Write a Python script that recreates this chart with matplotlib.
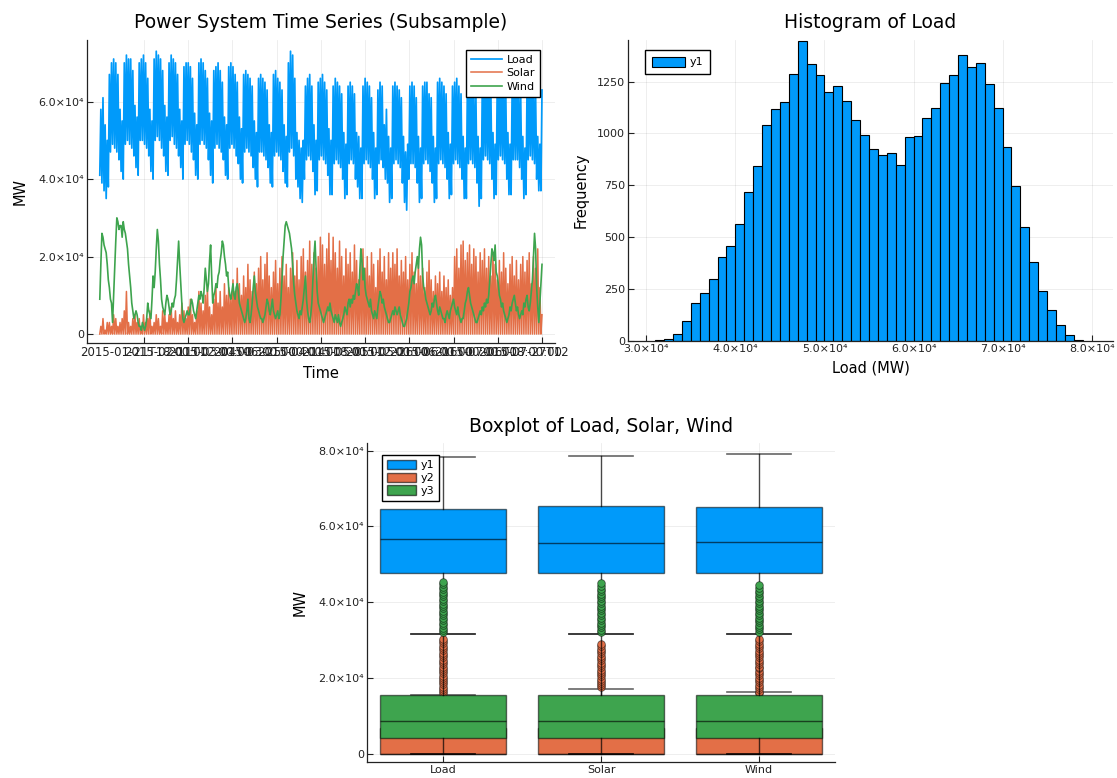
import numpy as np
import matplotlib
matplotlib.use("Agg")
import matplotlib.pyplot as plt
from matplotlib.patches import Patch, Rectangle

# ---------------- data (values in thousands of MW, two samples per day) ----------------
# load: night trough, day peak for every day from 2015-01-01
load_k = [
    41, 58, 39, 61, 37, 54, 35, 50,
    38, 67, 47, 70, 49, 71, 48, 70, 47, 67, 45, 58, 42, 55,
    40, 70, 49, 72, 50, 71, 49, 71, 48, 68, 46, 59, 43, 56,
    41, 70, 50, 71, 50, 72, 49, 70, 48, 66, 46, 58, 42, 55,
    40, 71, 50, 73, 51, 72, 50, 71, 48, 68, 46, 59, 42, 56,
    41, 70, 50, 72, 51, 71, 49, 70, 48, 67, 46, 58, 43, 55,
    40, 69, 49, 70, 50, 70, 49, 69, 47, 66, 45, 57, 41, 54,
    40, 70, 49, 71, 50, 70, 49, 68, 48, 66, 45, 57, 41, 55,
    39, 68, 48, 69, 49, 70, 48, 68, 47, 65, 45, 56, 41, 54,
    40, 69, 48, 70, 49, 69, 48, 67, 46, 65, 44, 56, 40, 53,
    39, 67, 47, 68, 48, 67, 47, 66, 46, 64, 43, 55, 40, 52,
    38, 66, 47, 67, 47, 66, 46, 65, 45, 63, 43, 54, 39, 52,
    38, 67, 46, 68, 47, 66, 46, 65, 45, 63, 42, 54, 39, 51,
    38, 70, 47, 73, 48, 72, 46, 66, 40, 52, 38, 50, 35, 48,
    34, 50, 40, 64, 45, 66, 46, 67, 45, 64, 42, 54, 36, 50,
    37, 65, 45, 66, 46, 67, 45, 65, 44, 63, 41, 53, 36, 50,
    36, 64, 44, 66, 45, 65, 44, 64, 43, 62, 40, 52, 35, 49,
    36, 64, 44, 65, 45, 64, 44, 62, 40, 52, 38, 51, 35, 48,
    35, 64, 44, 66, 45, 65, 44, 64, 43, 61, 40, 52, 35, 48,
    36, 63, 44, 65, 45, 64, 43, 54, 40, 58, 39, 51, 34, 48,
    35, 64, 44, 65, 45, 64, 44, 63, 43, 61, 39, 51, 34, 47,
    32, 49, 40, 64, 44, 65, 44, 64, 43, 61, 39, 51, 34, 48,
    35, 64, 44, 65, 45, 65, 44, 62, 42, 61, 39, 51, 34, 48,
    35, 65, 44, 66, 45, 65, 44, 64, 43, 62, 40, 52, 35, 49,
    36, 64, 44, 65, 45, 66, 44, 64, 43, 62, 40, 51, 35, 48,
    35, 65, 44, 66, 45, 65, 44, 64, 43, 61, 39, 51, 33, 48,
    35, 66, 45, 67, 46, 67, 45, 66, 44, 63, 40, 52, 35, 49,
    36, 65, 45, 66, 46, 66, 45, 65, 44, 63, 40, 52, 36, 49,
    36, 64, 45, 66, 45, 65, 45, 64, 43, 62, 40, 51, 35, 48,
    36, 65, 45, 66, 46, 66, 45, 65, 44, 62, 40, 51, 37, 49,
    37, 63,
]

# solar: daily peak (night value is 0)
solar_peak_k = [
    2, 4, 1, 3,
    3, 2, 5, 4, 2, 3, 4,
    6, 11, 3, 2, 4, 5, 3,
    4, 2, 5, 3, 4, 6, 2,
    3, 5, 4, 2, 6, 5, 3,
    5, 7, 4, 6, 3, 5, 8,
    6, 4, 7, 9, 5, 3, 6,
    11, 8, 6, 10, 12, 7, 5,
    9, 12, 8, 11, 7, 13, 10,
    12, 9, 14, 11, 17, 13, 10,
    15, 12, 18, 14, 11, 16, 13,
    17, 20, 14, 18, 21, 15, 12,
    16, 19, 13, 17, 20, 15, 18,
    12, 17, 21, 15, 19, 14, 20,
    22, 16, 19, 24, 18, 21, 17,
    20, 25, 23, 18, 22, 26, 19,
    25, 21, 17, 24, 20, 15, 22,
    18, 21, 16, 23, 19, 14, 20,
    22, 17, 20, 15, 21, 18, 12,
    19, 22, 16, 20, 14, 21, 17,
    21, 18, 22, 15, 19, 16, 20,
    14, 18, 21, 16, 13, 19, 15,
    17, 12, 16, 19, 14, 11, 15,
    13, 16, 11, 15, 12, 14, 10,
    12, 20, 22, 17, 23, 24, 19,
    21, 23, 18, 22, 20, 16, 21,
    19, 22, 17, 20, 15, 21, 18,
    14, 19, 16, 21, 17, 13, 18,
    20, 15, 19, 14, 18, 20, 16,
    19, 21, 13, 20, 17, 22, 12,
    5,
]

# wind: two samples per day
wind_k = [
    9, 18, 26, 25, 23, 22, 21, 18, 14, 12, 9, 8, 3, 10,
    17, 24, 30, 29, 27, 28, 28, 25, 29, 27, 26, 24, 22, 18,
    15, 12, 8, 6, 4, 5, 6, 5, 3, 2, 2, 1, 3, 2,
    1, 2, 4, 8, 6, 5, 4, 9, 15, 12, 16, 22, 27, 24,
    18, 14, 9, 7, 6, 5, 8, 10, 9, 7, 5, 6, 8, 7,
    9, 10, 14, 19, 24, 18, 13, 8, 4, 3, 4, 5, 6, 5,
    5, 7, 9, 8, 6, 5, 4, 6, 8, 10, 9, 11, 10, 8,
    12, 17, 14, 11, 13, 19, 23, 15, 8, 10, 11, 13, 12, 15,
    16, 19, 21, 24, 23, 20, 18, 15, 16, 12, 10, 9, 11, 13,
    10, 9, 12, 13, 11, 8, 7, 6, 5, 4, 3, 4, 6, 9,
    4, 3, 5, 8, 12, 15, 11, 9, 7, 6, 5, 4, 4, 3,
    4, 5, 7, 9, 8, 6, 5, 7, 9, 6, 5, 4, 5, 6,
    4, 5, 9, 14, 20, 24, 28, 29, 28, 27, 26, 24, 22, 18,
    13, 10, 8, 6, 5, 4, 6, 5, 7, 9, 12, 15, 9, 6,
    4, 3, 5, 8, 14, 20, 24, 17, 11, 8, 7, 6, 5, 4,
    3, 4, 5, 6, 7, 6, 8, 6, 5, 4, 3, 5, 4, 3,
    5, 3, 2, 3, 4, 5, 7, 6, 5, 8, 9, 7, 9, 8,
    10, 9, 11, 13, 12, 10, 16, 22, 19, 14, 17, 12, 10, 9,
    8, 7, 9, 6, 5, 4, 6, 5, 4, 7, 9, 11, 10, 8,
    9, 7, 6, 5, 4, 3, 3, 4, 5, 6, 5, 7, 6, 5,
    6, 7, 5, 4, 3, 2, 2, 3, 4, 6, 8, 11, 12, 14,
    15, 13, 16, 18, 20, 17, 22, 25, 23, 15, 12, 11, 9, 8,
    7, 6, 5, 6, 8, 7, 9, 10, 8, 6, 5, 7, 6, 5,
    4, 4, 3, 5, 6, 5, 4, 6, 7, 8, 9, 7, 6, 5,
    7, 5, 4, 3, 4, 4, 6, 8, 9, 11, 12, 10, 8, 7,
    6, 5, 4, 3, 3, 4, 5, 6, 5, 7, 6, 8, 7, 9,
    8, 10, 14, 18, 22, 21, 19, 23, 16, 15, 13, 10, 9, 7,
    8, 6, 5, 4, 3, 4, 5, 7, 6, 8, 9, 10, 8, 6,
    7, 5, 4, 5, 6, 5, 8, 7, 9, 10, 7, 6, 8, 11,
    14, 20, 26, 22, 12, 7, 3, 8, 13, 18,
]

time_ticks_days = [20.75, 41.5, 62.25, 83, 103.75, 124.5, 145.25, 166, 186.75, 207.5]
time_tick_labels = ["2015-01-21T18:00:00", "2015-02-11T12:00:00", "2015-03-04T06:00:00",
                    "2015-03-25T00:00:00", "2015-04-14T18:00:00", "2015-05-05T12:00:00",
                    "2015-05-26T06:00:00", "2015-06-16T00:00:00", "2015-07-06T18:00:00",
                    "2015-07-27T12:00:00"]

# histogram of load, 1000 MW bins from 31000 MW
hist_start = 31000
hist_width = 1000
hist_counts = [5, 11, 32, 96, 185, 233, 300, 403, 460, 566, 720, 844, 1041, 1120, 1152,
               1288, 1443, 1333, 1282, 1200, 1226, 1158, 1067, 992, 926, 897, 905, 849,
               985, 988, 1073, 1123, 1242, 1282, 1380, 1319, 1338, 1239, 1122, 934, 745,
               549, 380, 241, 148, 75, 27, 6]

# boxplot stats (thousands MW) for y1, y2, y3 at Load / Solar / Wind
box_categories = ["Load", "Solar", "Wind"]
y1_stats = [  # whislo, q1, med, q3, whishi
    (31.7, 47.8, 56.6, 64.7, 78.4),
    (31.7, 47.8, 55.6, 65.3, 78.5),
    (31.7, 47.8, 55.9, 65.1, 79.2),
]
y2_stats = [
    (0.0, 0.0, 0.0, 6.8, 15.6),
    (0.0, 0.0, 0.0, 6.8, 17.2),
    (0.0, 0.0, 0.0, 6.8, 16.3),
]
y3_stats = [
    (0.0, 4.1, 8.6, 15.4, 31.6),
    (0.0, 4.1, 8.6, 15.4, 31.6),
    (0.0, 4.1, 8.6, 15.4, 31.6),
]
y2_fliers = [
    [15.9, 16.5, 17.0, 17.6, 18.3, 18.8, 19.4, 20.1, 20.6, 21.2, 21.9, 22.4, 23.0,
     23.7, 24.2, 24.8, 25.5, 26.0, 26.6, 27.3, 27.8, 28.4, 29.1, 29.7, 30.3],
    [17.5, 18.1, 18.6, 19.3, 19.8, 20.4, 21.1, 21.6, 22.2, 22.9, 23.4, 24.0, 24.7,
     25.2, 25.8, 26.5, 27.0, 27.6, 28.3, 28.9],
    [15.9, 16.4, 17.1, 17.6, 18.2, 18.9, 19.4, 20.0, 20.7, 21.2, 21.8, 22.5, 23.0,
     23.6, 24.3, 24.8, 25.4, 26.1, 26.6, 27.2, 27.9, 28.4, 29.0, 29.7, 30.2],
]
y3_fliers = [
    [32.1, 32.7, 33.3, 33.9, 34.6, 35.2, 35.8, 36.5, 37.1, 37.7, 38.4, 39.0, 39.6,
     40.3, 40.9, 41.5, 42.2, 42.8, 43.4, 44.1, 44.7, 45.4],
    [32.1, 32.7, 33.4, 34.0, 34.6, 35.3, 35.9, 36.5, 37.2, 37.8, 38.4, 39.1, 39.7,
     40.3, 41.0, 41.6, 42.2, 42.9, 43.5, 44.2, 45.0],
    [32.1, 32.8, 33.4, 34.0, 34.7, 35.3, 35.9, 36.6, 37.2, 37.8, 38.5, 39.1, 39.7,
     40.4, 41.0, 41.6, 42.3, 42.9, 43.6, 44.6],
]

sci_ticks = [0, 20000, 40000, 60000, 80000]
sci_labels = ["0", "2.0×10⁴", "4.0×10⁴", "6.0×10⁴", "8.0×10⁴"]
hist_xticks = [30000, 40000, 50000, 60000, 70000, 80000]
hist_xlabels = ["3.0×10⁴", "4.0×10⁴", "5.0×10⁴", "6.0×10⁴", "7.0×10⁴", "8.0×10⁴"]
hist_yticks = [0, 250, 500, 750, 1000, 1250]

# ---------------- figure ----------------
C_BLUE = "#009AFA"
C_ORANGE = "#E36F47"
C_GREEN = "#3EA44E"

W, H = 1117, 778
fig = plt.figure(figsize=(W / 100, H / 100), dpi=100)


def style(ax):
    for s in ["top", "right"]:
        ax.spines[s].set_visible(False)
    for s in ["left", "bottom"]:
        ax.spines[s].set_color("#222222")
        ax.spines[s].set_linewidth(0.9)
    ax.tick_params(direction="in", length=4, width=0.8, labelsize=8,
                   color="#222222", labelcolor="#222222", pad=2)
    ax.grid(True, color="black", alpha=0.08, linewidth=0.6)
    ax.set_axisbelow(True)


# --- time series
ax1 = fig.add_axes([87 / W, 1 - 343 / H, 468 / W, 303 / H])
style(ax1)
ax1.tick_params(axis="x", labelsize=8.5)
load = np.array(load_k) * 1000
wind = np.array(wind_k) * 1000
solar = np.column_stack([np.zeros(len(solar_peak_k)), solar_peak_k]).ravel() * 1000
ax1.plot(np.arange(len(load)) * 0.5, load, color=C_BLUE, lw=1.25, label="Load")
ax1.plot(np.arange(len(solar)) * 0.5, solar, color=C_ORANGE, lw=1.1, label="Solar")
ax1.plot(np.arange(len(wind)) * 0.5, wind, color=C_GREEN, lw=1.2, label="Wind")
ax1.set_xlim(-6.0, 213.6)
ax1.set_ylim(-2300, 75900)
ax1.set_xticks(time_ticks_days, time_tick_labels)
ax1.set_yticks(sci_ticks[:4], sci_labels[:4])
ax1.set_title("Power System Time Series (Subsample)", fontsize=13.5, pad=9)
ax1.set_xlabel("Time", fontsize=10.5, labelpad=5)
ax1.set_ylabel("MW", fontsize=10.5, labelpad=8)
ax1.legend(loc="upper left", bbox_to_anchor=(466 / W, 1 - 50 / H),
           bbox_transform=fig.transFigure, fontsize=8, frameon=True, fancybox=False,
           edgecolor="black", framealpha=1, handlelength=2.8, labelspacing=0.3,
           borderpad=0.45, handletextpad=0.4, borderaxespad=0)

# cover tick label overflow into the right panel
fig.add_artist(Rectangle((568 / W, 0.5), 1, 0.5, transform=fig.transFigure,
                         facecolor="white", edgecolor="none", zorder=0.5))

# --- histogram
ax2 = fig.add_axes([628 / W, 1 - 341 / H, 485 / W, 301 / H])
ax2.set_zorder(1)
style(ax2)
edges = hist_start + hist_width * np.arange(len(hist_counts) + 1)
ax2.hist(edges[:-1] + hist_width / 2, bins=edges, weights=hist_counts,
         color=C_BLUE, edgecolor="black", linewidth=0.8, label="y1")
ax2.set_xlim(27940, 82400)
ax2.set_ylim(0, 1450)
ax2.set_xticks(hist_xticks, hist_xlabels)
ax2.set_yticks(hist_yticks)
ax2.set_title("Histogram of Load", fontsize=13.5, pad=9)
ax2.set_xlabel("Load (MW)", fontsize=10.5, labelpad=5)
ax2.set_ylabel("Frequency", fontsize=10.5, labelpad=6)
ax2.legend(loc="upper left", bbox_to_anchor=(645 / W, 1 - 50 / H),
           bbox_transform=fig.transFigure, fontsize=8, frameon=True, fancybox=False,
           edgecolor="black", framealpha=1, handlelength=3, handleheight=1.0,
           borderpad=0.6, handletextpad=0.4, borderaxespad=0)

# --- boxplot
ax3 = fig.add_axes([367 / W, 1 - 762 / H, 468 / W, 319 / H])
style(ax3)
positions = [0.5, 1.5, 2.5]


def make_stats(stats, fliers):
    out = []
    for i, (lo, q1, med, q3, hi) in enumerate(stats):
        out.append(dict(whislo=lo * 1000, q1=q1 * 1000, med=med * 1000, q3=q3 * 1000,
                        whishi=hi * 1000,
                        fliers=np.array(fliers[i]) * 1000 if fliers else np.array([])))
    return out


for st, fl, col in [(y1_stats, None, C_BLUE), (y2_stats, y2_fliers, C_ORANGE),
                    (y3_stats, y3_fliers, C_GREEN)]:
    ax3.bxp(make_stats(st, fl), positions=positions, widths=0.8, capwidths=0.4,
            patch_artist=True, showfliers=True,
            boxprops=dict(facecolor=col, edgecolor=(0, 0, 0, 0.55), linewidth=1.0),
            medianprops=dict(color=(0, 0, 0, 0.6), linewidth=1.0),
            whiskerprops=dict(color=(0, 0, 0, 0.7), linewidth=1.0),
            capprops=dict(color=(0, 0, 0, 0.6), linewidth=1.2),
            flierprops=dict(marker="o", markerfacecolor=col, markersize=5.5,
                            markeredgecolor=(0, 0, 0, 0.55), markeredgewidth=0.6))

ax3.set_xlim(0.02, 2.98)
ax3.set_ylim(-2200, 82000)
ax3.set_xticks(positions, box_categories)
ax3.set_yticks(sci_ticks, sci_labels)
ax3.set_title("Boxplot of Load, Solar, Wind", fontsize=13.5, pad=8)
ax3.set_ylabel("MW", fontsize=10.5, labelpad=8)
handles = [Patch(facecolor=c, edgecolor=(0, 0, 0, 0.6)) for c in (C_BLUE, C_ORANGE, C_GREEN)]
ax3.legend(handles, ["y1", "y2", "y3"], loc="upper left",
           bbox_to_anchor=(382 / W, 1 - 455 / H), bbox_transform=fig.transFigure,
           fontsize=8, frameon=True, fancybox=False, edgecolor="black", framealpha=1,
           handlelength=2.6, handleheight=0.9, labelspacing=0.2, borderpad=0.45,
           handletextpad=0.4, borderaxespad=0)

fig.savefig("out.png", dpi=100)
